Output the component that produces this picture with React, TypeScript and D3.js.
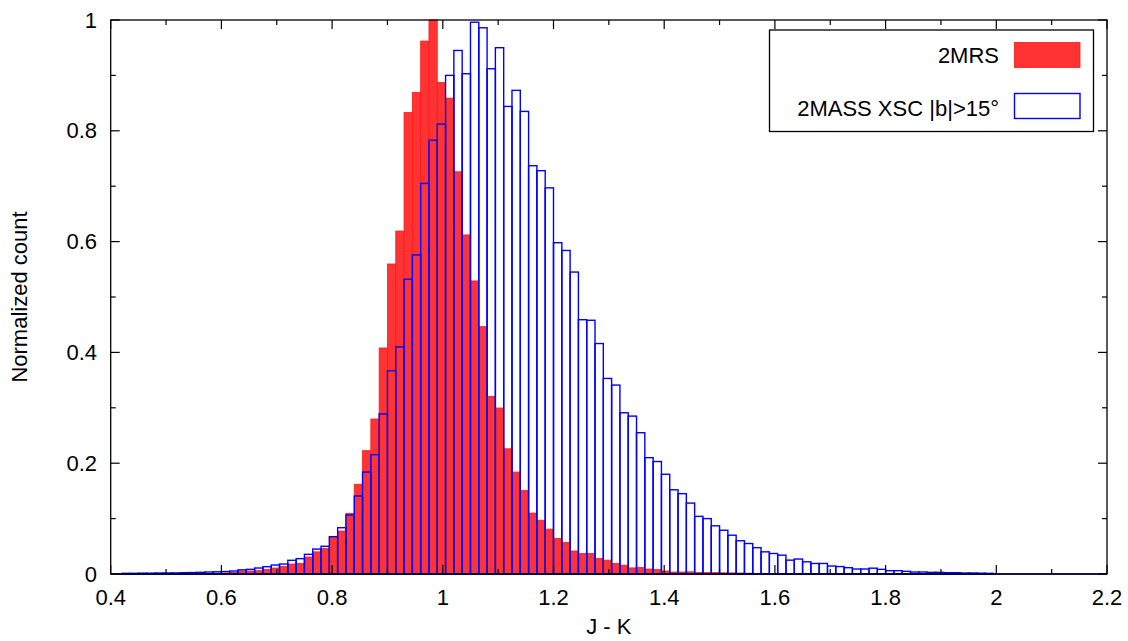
import React from "react";
import * as d3 from "d3";

// Histogram bins: left edge = binStart + i * binWidth
const binStart = 0.42;
const binWidth = 0.015;

// 2MASS XSC |b|>15° (blue outline)
const xscValues = [
  0.0012, 0.0012, 0.0015, 0.0015, 0.0018, 0.0018, 0.002, 0.0024, 0.0026, 0.003,
  0.0036, 0.004, 0.0045, 0.0054, 0.0075, 0.0084, 0.0108, 0.0132, 0.0162, 0.018,
  0.0247, 0.0277, 0.0355, 0.045, 0.05, 0.0674, 0.0835, 0.1065, 0.1408, 0.184,
  0.2154, 0.289, 0.367, 0.41, 0.532, 0.576, 0.705, 0.783, 0.812, 0.9,
  0.945, 0.903, 0.996, 0.986, 0.912, 0.95, 0.844, 0.873, 0.835, 0.737,
  0.728, 0.697, 0.598, 0.584, 0.545, 0.459, 0.458, 0.416, 0.353, 0.341,
  0.291, 0.285, 0.255, 0.21, 0.203, 0.18, 0.152, 0.145, 0.128, 0.104,
  0.1, 0.087, 0.079, 0.07, 0.06, 0.055, 0.0475, 0.04, 0.037, 0.034,
  0.025, 0.027, 0.022, 0.019, 0.019, 0.0144, 0.0134, 0.0114, 0.009, 0.009,
  0.0105, 0.0084, 0.006, 0.006, 0.0048, 0.0036, 0.0036, 0.003, 0.003, 0.0024,
  0.0024, 0.0018, 0.0018, 0.0015, 0.0012,
];

// 2MRS (red filled)
const mrsValues = [
  0, 0, 0, 0, 0, 0, 0, 0, 0, 0,
  0.001, 0.0015, 0.002, 0.003, 0.0054, 0.0054, 0.006, 0.0084, 0.0108, 0.0138,
  0.018, 0.0192, 0.0307, 0.04, 0.046, 0.066, 0.0776, 0.1095, 0.162, 0.2226,
  0.2798, 0.408, 0.5596, 0.619, 0.833, 0.869, 0.962, 1.0, 0.887, 0.859,
  0.726, 0.612, 0.529, 0.4465, 0.3207, 0.2996, 0.226, 0.184, 0.151, 0.11,
  0.097, 0.081, 0.0644, 0.057, 0.0415, 0.037, 0.037, 0.028, 0.025, 0.019,
  0.016, 0.011, 0.012, 0.009, 0.008, 0.0054, 0.0036, 0.0036, 0.004, 0.003,
  0.0028, 0.0025, 0.0022, 0.002, 0.0018, 0.0015, 0.0012, 0.001, 0.0008, 0,
];

const xMajorTicks = [0.4, 0.6, 0.8, 1.0, 1.2, 1.4, 1.6, 1.8, 2.0, 2.2];
const xMinorTicks = [0.5, 0.7, 0.9, 1.1, 1.3, 1.5, 1.7, 1.9, 2.1];
const yMajorTicks = [0, 0.2, 0.4, 0.6, 0.8, 1.0];
const yMinorTicks = [0.1, 0.3, 0.5, 0.7, 0.9];

const seriesLabels = ["2MRS", "2MASS XSC |b|>15°"];
const xTitle = "J - K";
const yTitle = "Normalized count";

const W = 1128;
const H = 641;
const L = 110.7;
const R = 1107;
const T = 20;
const B = 574;
const FONT = "'Liberation Sans', Arial, Helvetica, sans-serif";
const FS = 22;
const RED_FILL = "#ff3333";
const RED_EDGE = "#ff1a1a";
const BLUE = "#0000ff";

const fmt = (v: number) => {
  const s = d3.format(".1f")(v);
  return s.endsWith(".0") ? s.slice(0, -2) : s;
};

export default function App() {
  const x = d3.scaleLinear().domain([0.4, 2.2]).range([L, R]);
  const y = d3.scaleLinear().domain([0, 1]).range([B, T]);

  const bars = (vals: number[]) =>
    vals.map((v, i) => {
      const x0 = binStart + i * binWidth;
      return { x: x(x0), w: x(x0 + binWidth) - x(x0), y: y(v), h: y(0) - y(v), v };
    });

  const red = bars(mrsValues).filter((b) => b.v > 0);
  const blue = bars(xscValues);

  const majLen = 9;
  const minLen = 5;

  return (
    <div style={{ position: "absolute", left: 0, top: 0 }}>
      <svg width={W} height={H} style={{ display: "block", background: "#fff" }}>
        <g>
          {red.map((b, i) => (
            <rect key={i} x={b.x} y={b.y} width={b.w} height={b.h}
              fill={RED_FILL} stroke={RED_EDGE} strokeWidth={0.8} />
          ))}
        </g>
        <g>
          {blue.map((b, i) => (
            <rect key={i} x={b.x} y={b.y} width={b.w} height={b.h}
              fill="none" stroke={BLUE} strokeWidth={1.4} />
          ))}
        </g>

        <rect x={L} y={T} width={R - L} height={B - T} fill="none" stroke="#000" strokeWidth={1.3} />

        <g stroke="#000" strokeWidth={1.2}>
          {xMajorTicks.map((t) => (
            <g key={"xM" + t}>
              <line x1={x(t)} x2={x(t)} y1={B} y2={B - majLen} />
              <line x1={x(t)} x2={x(t)} y1={T} y2={T + majLen} />
            </g>
          ))}
          {xMinorTicks.map((t) => (
            <g key={"xm" + t}>
              <line x1={x(t)} x2={x(t)} y1={B} y2={B - minLen} />
              <line x1={x(t)} x2={x(t)} y1={T} y2={T + minLen} />
            </g>
          ))}
          {yMajorTicks.map((t) => (
            <g key={"yM" + t}>
              <line x1={L} x2={L + majLen} y1={y(t)} y2={y(t)} />
              <line x1={R} x2={R - majLen} y1={y(t)} y2={y(t)} />
            </g>
          ))}
          {yMinorTicks.map((t) => (
            <g key={"ym" + t}>
              <line x1={L} x2={L + minLen} y1={y(t)} y2={y(t)} />
              <line x1={R} x2={R - minLen} y1={y(t)} y2={y(t)} />
            </g>
          ))}
        </g>
        <line x1={L} x2={R} y1={B} y2={B} stroke="#000033" strokeWidth={1.6} />

        <g fontFamily={FONT} fontSize={FS} fill="#000">
          {xMajorTicks.map((t) => (
            <text key={"xl" + t} x={x(t)} y={605} textAnchor="middle">{fmt(t)}</text>
          ))}
          {yMajorTicks.map((t) => (
            <text key={"yl" + t} x={97} y={y(t) + 7.5} textAnchor="end">{fmt(t)}</text>
          ))}
        </g>

        <text x={(L + R) / 2} y={634} textAnchor="middle" fontFamily={FONT} fontSize={FS}>{xTitle}</text>
        <text transform={`translate(27,${(T + B) / 2}) rotate(-90)`} textAnchor="middle"
          fontFamily={FONT} fontSize={FS}>{yTitle}</text>

        <g>
          <rect x={769.5} y={30} width={324} height={101.5} fill="#fff" stroke="#000" strokeWidth={1.3} />
          <text x={999} y={62.5} textAnchor="end" fontFamily={FONT} fontSize={FS}>{seriesLabels[0]}</text>
          <rect x={1014.5} y={42.5} width={65.5} height={25} fill={RED_FILL} stroke={RED_EDGE} strokeWidth={0.8} />
          <text x={999} y={115.5} textAnchor="end" fontFamily={FONT} fontSize={FS}>{seriesLabels[1]}</text>
          <rect x={1014.5} y={93.5} width={65.5} height={25} fill="none" stroke={BLUE} strokeWidth={1.4} />
        </g>
      </svg>
    </div>
  );
}
